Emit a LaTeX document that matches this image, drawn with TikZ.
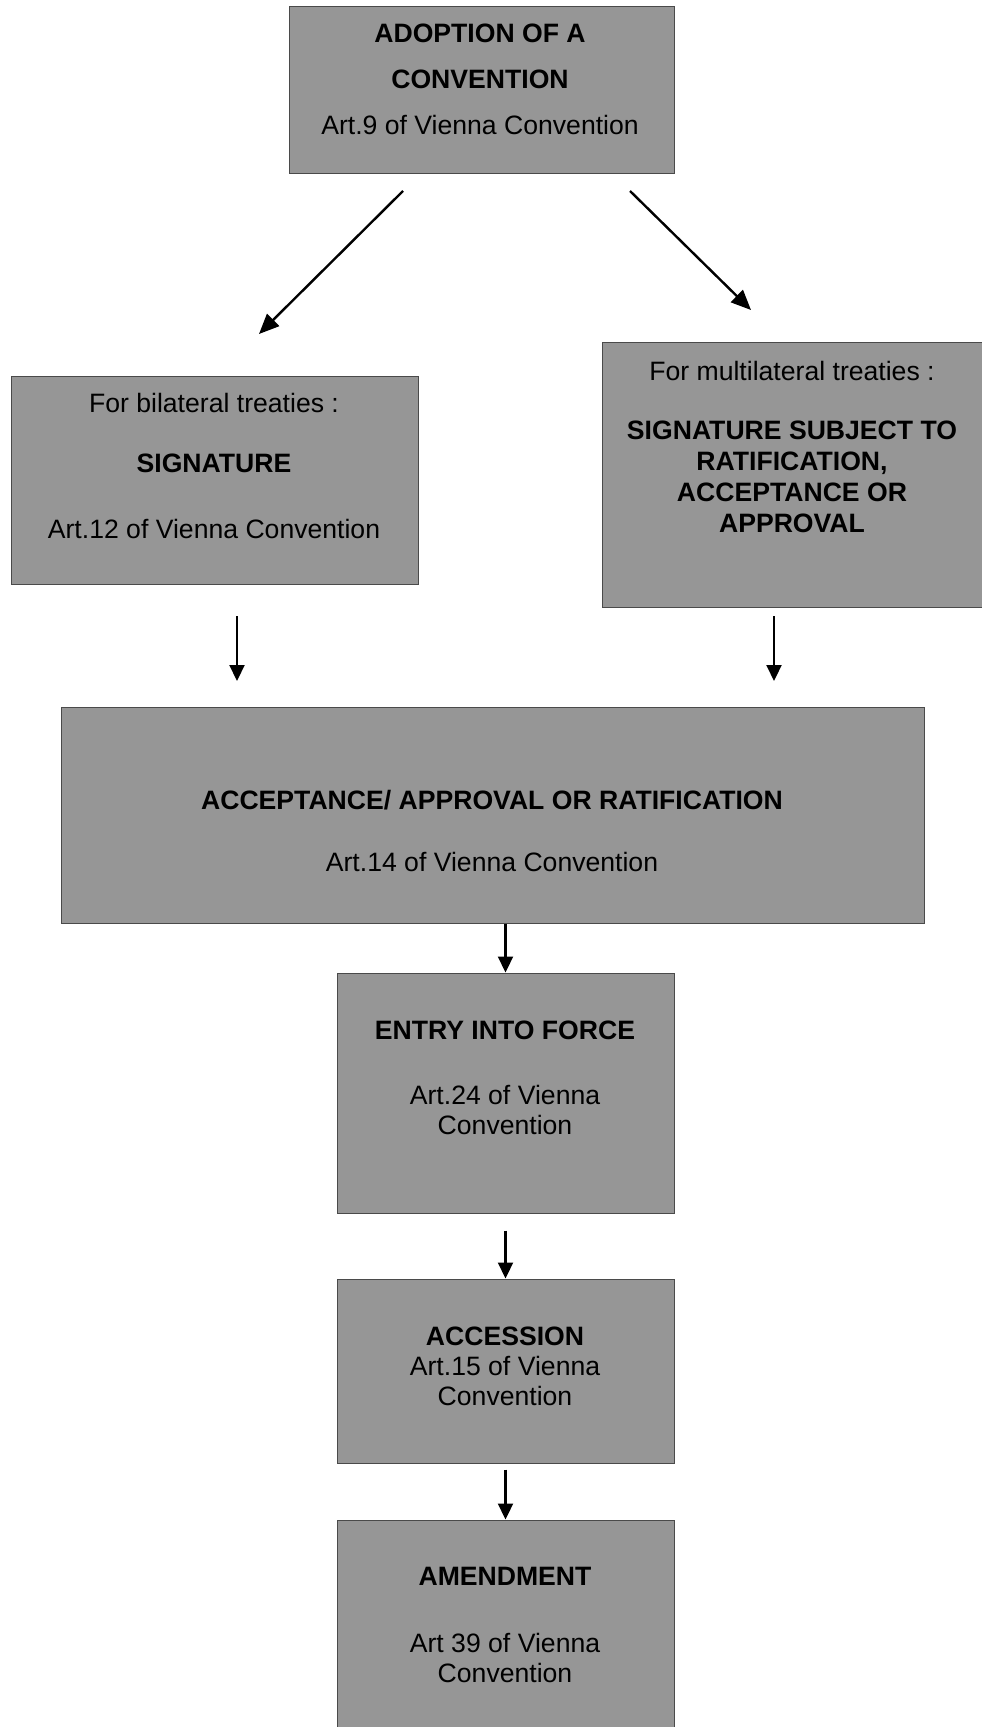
\documentclass[tikz,border=0pt]{standalone}
\usepackage{fontspec}
\setmainfont{Liberation Sans}
\usetikzlibrary{positioning,arrows.meta}
\definecolor{vcBoxFill}{HTML}{969696}
\definecolor{vcBoxLine}{HTML}{4A4A4A}
\tikzset{
  treaty box/.style={
    rectangle, draw=vcBoxLine, fill=vcBoxFill,
    line width=0.5pt, inner sep=0pt,
  },
  box text/.style={
    align=center, inner sep=0pt,
    font=\fontsize{13.3}{15}\selectfont,
  },
  flow arrow/.style={
    line width=1.1pt, -{Triangle[length=8pt,width=7.5pt]},
  },
  split arrow/.style={
    line width=1.2pt, -{Triangle[length=10pt,width=8.5pt]},
  },
}

\begin{document}
\begin{tikzpicture}[x=0.5pt, y=-0.5pt]
\useasboundingbox (0,0) rectangle (981,1727);

%% Boxes (centre, size) ===============================================
\node[treaty box, minimum width=192.5pt, minimum height=83.5pt] (adopt) at (481.5,90.5) {};
\node[treaty box, minimum width=203.5pt, minimum height=103.5pt] (sig) at (214.5,480.5) {};
\node[treaty box, minimum width=194pt, minimum height=132pt] (subj) at (796,475) {};
\node[treaty box, minimum width=431.5pt, minimum height=108pt] (accept) at (492.5,815) {};
\node[treaty box, minimum width=168.5pt, minimum height=120pt] (entry) at (505.5,1093) {};
\node[treaty box, minimum width=168.5pt, minimum height=92pt] (access) at (505.5,1371) {};
\node[treaty box, minimum width=168.5pt, minimum height=110pt] (amend) at (505.5,1630) {};

%% Texts ==============================================================
\node[box text] (adoptT) at (480,79)
  {\textbf{ADOPTION OF A}\\[8pt]\textbf{CONVENTION}\\[8pt]Art.9 of Vienna Convention};
\node[box text] (sigT) at (214,466)
  {For bilateral treaties :\\[15pt]\textbf{SIGNATURE}\\[18pt]Art.12 of Vienna Convention};
\node[box text] (subjT) at (792,447)
  {For multilateral treaties :\\[14.5pt]\textbf{SIGNATURE SUBJECT TO}\\[0.5pt]\textbf{RATIFICATION,}\\[0.5pt]\textbf{ACCEPTANCE OR}\\[0.5pt]\textbf{APPROVAL}};
\node[box text] (acceptT) at (492,831)
  {\textbf{ACCEPTANCE/ APPROVAL OR RATIFICATION}\\[16pt]Art.14 of Vienna Convention};
\node[box text] (entryT) at (505,1078)
  {\textbf{ENTRY INTO FORCE}\\[17.5pt]Art.24 of Vienna\\Convention};
\node[box text] (accessT) at (505,1366.5)
  {\textbf{ACCESSION}\\Art.15 of Vienna\\Convention};
\node[box text] (amendT) at (505,1624.5)
  {\textbf{AMENDMENT}\\[18.5pt]Art 39 of Vienna\\Convention};

%% Arrow ends (free, with gaps to the boxes) ==========================
\coordinate (splitL) at (403,191);
\coordinate (sigIn) at (259,334);
\coordinate (splitR) at (630,191);
\coordinate (subjIn) at (751,310);
\coordinate (sigOut) at (237,616);
\coordinate (acceptInL) at (237,681);
\coordinate (subjOut) at (774,616);
\coordinate (acceptInR) at (774,681);

\draw[split arrow] (splitL) -- (sigIn);
\draw[split arrow] (splitR) -- (subjIn);
\draw[flow arrow] (sigOut) -- (acceptInL);
\draw[flow arrow] (subjOut) -- (acceptInR);

% Main chain downwards
\draw[flow arrow] (accept.south -| entry.north) -- (entry.north);
\draw[flow arrow, shorten <=8.5pt] (entry.south) -- (access.north);
\draw[flow arrow, shorten <=3pt] (access.south) -- (amend.north);

\end{tikzpicture}
\end{document}
